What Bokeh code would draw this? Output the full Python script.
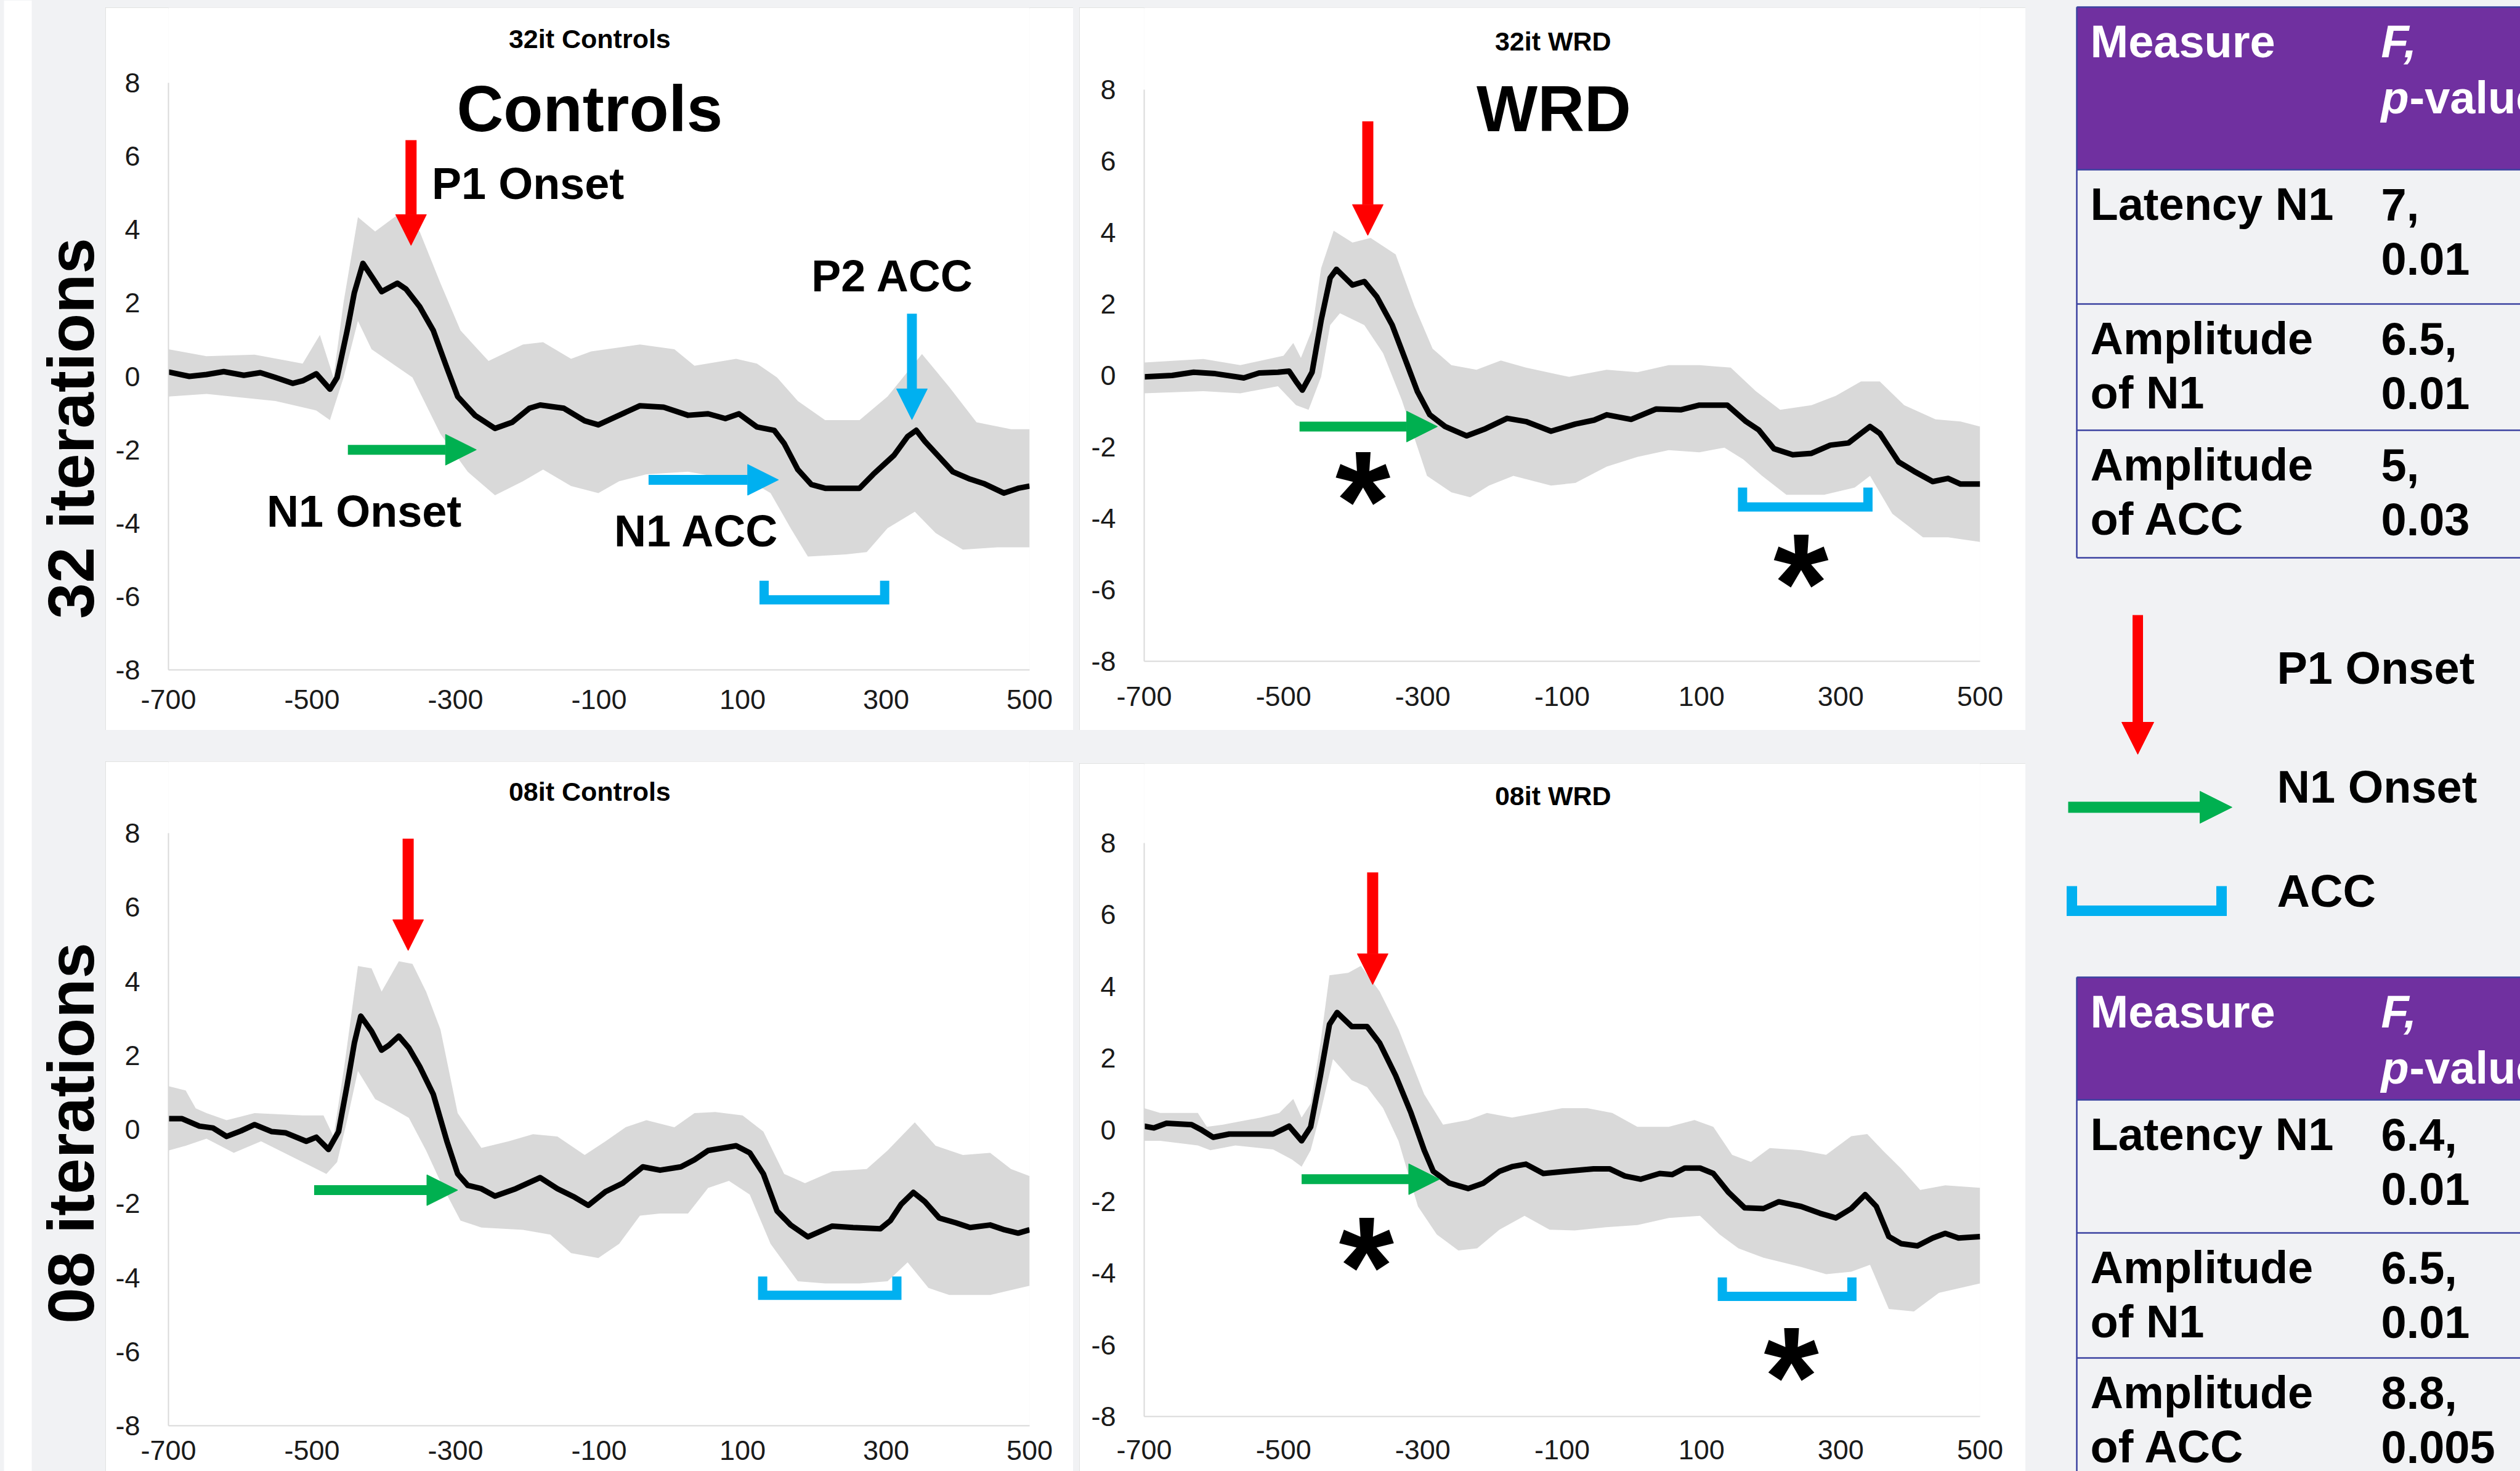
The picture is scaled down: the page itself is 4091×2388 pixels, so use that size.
import math
from bokeh.plotting import figure
from bokeh.models import Range1d, FixedTicker, Arrow, NormalHead, Label, Spacer
from bokeh.layouts import row, column
from bokeh.embed import file_html
from bokeh.resources import INLINE
from bokeh.core.properties import value

# ---------------------------------------------------------------- data
X_TICKS = [-700, -500, -300, -100, 100, 300, 500]
Y_TICKS = [-8, -6, -4, -2, 0, 2, 4, 6, 8]

# 32it Controls
tl_t = [-700, -671, -647, -623, -595, -572, -551, -527, -513, -494, -475, -465, -451, -441, -429, -417, -403,
        -381, -369, -350, -331, -312, -297, -273, -245, -221, -197, -182, -149, -120, -101, -72, -43, -10, 24,
        52, 76, 95, 120, 144, 158, 177, 196, 215, 263, 282, 311, 330, 342, 354, 369, 393, 417, 436, 464, 484, 500]
tl_mean = [0.12, 0.0, 0.05, 0.13, 0.03, 0.1, -0.03, -0.19, -0.12, 0.07, -0.35, -0.03, 1.25, 2.28, 3.08, 2.73,
           2.31, 2.54, 2.38, 1.9, 1.25, 0.23, -0.55, -1.06, -1.42, -1.25, -0.87, -0.78, -0.87, -1.21, -1.32,
           -1.06, -0.80, -0.84, -1.06, -1.02, -1.15, -1.02, -1.38, -1.47, -1.83, -2.54, -2.95, -3.05, -3.05,
           -2.67, -2.15, -1.64, -1.47, -1.77, -2.09, -2.60, -2.80, -2.92, -3.18, -3.05, -2.99]
tl_up_t = [-700, -647, -580, -513, -489, -470, -456, -436, -412, -381, -350, -321, -293, -254, -206, -178, -139,
           -111, -43, 5, 33, 91, 120, 148, 177, 215, 263, 302, 350, 388, 426, 474, 500]
tl_up = [0.74, 0.55, 0.59, 0.35, 1.13, -0.03, 2.02, 4.34, 3.95, 4.40, 3.95, 2.54, 1.25, 0.42, 0.87, 0.93, 0.48,
         0.68, 0.87, 0.74, 0.29, 0.48, 0.35, -0.03, -0.67, -1.19, -1.19, -0.55, 0.61, -0.29, -1.25, -1.44, -1.44]
tl_lo_t = [-700, -647, -551, -494, -475, -456, -436, -417, -360, -321, -283, -245, -206, -178, -139, -101, -72,
           -34, 24, 62, 100, 139, 167, 191, 244, 273, 302, 340, 369, 407, 455, 500]
tl_lo = [-0.55, -0.48, -0.67, -0.93, -1.19, -0.03, 1.51, 0.74, -0.03, -1.57, -2.60, -3.24, -2.86, -2.54, -2.99,
         -3.18, -2.86, -2.67, -2.60, -2.73, -2.73, -3.18, -4.14, -4.91, -4.85, -4.79, -4.14, -3.69, -4.27,
         -4.72, -4.66, -4.66]

# 32it WRD
tr_t = [-700, -660, -629, -598, -557, -535, -508, -492, -482, -473, -459, -446, -433, -424, -401, -384, -366,
        -344, -326, -308, -290, -268, -237, -210, -179, -152, -116, -81, -54, -36, -1, 35, 71, 97, 137, 164,
        182, 204, 231, 258, 285, 311, 329, 342, 356, 383, 405, 432, 454, 472, 500]
tr_mean = [-0.04, 0, 0.09, 0.05, -0.07, 0.07, 0.09, 0.12, -0.17, -0.41, 0.09, 1.54, 2.73, 2.97, 2.53, 2.63,
           2.2, 1.41, 0.49, -0.44, -1.1, -1.43, -1.69, -1.49, -1.2, -1.29, -1.56, -1.36, -1.25, -1.1, -1.23,
           -0.94, -0.96, -0.83, -0.83, -1.29, -1.52, -2.05, -2.22, -2.18, -1.95, -1.89, -1.62, -1.43, -1.62,
           -2.42, -2.68, -2.97, -2.88, -3.04, -3.04]
tr_up_t = [-700, -615, -562, -500, -486, -475, -459, -446, -428, -401, -375, -339, -312, -286, -259, -223, -188,
           -152, -90, -36, 8, 53, 97, 142, 178, 213, 258, 293, 329, 356, 391, 436, 472, 500]
tr_up = [0.36, 0.46, 0.29, 0.55, 0.91, 0.49, 1.28, 3.0, 4.05, 3.72, 3.85, 3.39, 1.94, 0.75, 0.29, 0.16, 0.42,
         0.22, -0.04, 0.16, 0.09, 0.29, 0.29, 0.22, -0.44, -0.96, -0.83, -0.57, -0.17, -0.17, -0.83, -1.23,
         -1.29, -1.43]
tr_lo_t = [-700, -615, -562, -508, -482, -464, -446, -433, -419, -384, -357, -330, -294, -259, -232, -205, -170,
           -116, -81, -36, 8, 53, 97, 133, 160, 187, 222, 276, 320, 342, 374, 418, 454, 500]
tr_lo = [-0.5, -0.44, -0.5, -0.3, -0.83, -0.96, -0.04, 1.41, 1.74, 1.41, 0.62, -0.7, -2.81, -3.27, -3.41,
         -3.08, -2.81, -3.08, -3.01, -2.55, -2.28, -2.09, -2.15, -2.02, -2.35, -2.81, -3.34, -3.34, -3.14,
         -2.81, -3.87, -4.53, -4.53, -4.66]

# 08it Controls
bl_t = [-700, -681, -657, -638, -619, -599, -580, -556, -537, -508, -494, -477, -463, -451, -441, -432, -417,
        -403, -393, -379, -365, -350, -331, -312, -297, -283, -264, -245, -216, -182, -158, -134, -115, -91,
        -67, -39, -15, 14, 33, 52, 91, 110, 129, 148, 167, 191, 225, 254, 292, 306, 321, 338, 354, 374, 397,
        417, 445, 465, 484, 500]
bl_mean = [0.29, 0.29, 0.09, 0.04, -0.19, -0.04, 0.13, -0.06, -0.09, -0.32, -0.21, -0.54, -0.06, 1.2, 2.33,
           3.06, 2.65, 2.14, 2.27, 2.52, 2.2, 1.7, 0.95, -0.32, -1.2, -1.51, -1.6, -1.8, -1.6, -1.3, -1.6,
           -1.83, -2.05, -1.68, -1.45, -1.01, -1.1, -1.01, -0.82, -0.57, -0.44, -0.63, -1.2, -2.2, -2.58, -2.9,
           -2.61, -2.65, -2.68, -2.46, -2.02, -1.7, -1.95, -2.39, -2.52, -2.65, -2.58, -2.71, -2.8, -2.71]
bl_up_t = [-700, -676, -662, -647, -619, -580, -513, -484, -470, -455, -436, -417, -403, -379, -360, -341, -321,
           -297, -264, -226, -192, -158, -120, -91, -63, -34, 5, 33, 62, 100, 129, 158, 187, 225, 273, 302,
           340, 369, 407, 445, 474, 500]
bl_up = [1.17, 1.05, 0.57, 0.44, 0.25, 0.44, 0.38, 0.38, -0.19, 1.7, 4.41, 4.35, 3.72, 4.54, 4.47, 3.72, 2.7,
         0.44, -0.5, -0.32, -0.13, -0.19, -0.69, -0.32, 0.06, 0.25, 0.06, 0.44, 0.47, 0.38, -0.06, -1.2,
         -1.45, -1.13, -1.07, -0.57, 0.19, -0.44, -0.69, -0.63, -1.07, -1.26]
bl_lo_t = [-700, -676, -647, -609, -571, -513, -480, -465, -451, -436, -412, -388, -365, -341, -317, -293, -264,
           -206, -168, -139, -101, -72, -43, -15, 24, 52, 81, 110, 139, 177, 215, 263, 302, 330, 359, 388, 445,
           500]
bl_lo = [-0.57, -0.44, -0.25, -0.63, -0.32, -0.88, -1.2, -0.88, 0.25, 1.58, 0.82, 0.57, 0.31, -0.57, -1.58,
         -2.46, -2.65, -2.71, -2.84, -3.34, -3.47, -3.09, -2.33, -2.27, -2.27, -1.58, -1.39, -1.76, -3.09,
         -4.1, -4.16, -4.16, -4.1, -3.59, -4.28, -4.47, -4.47, -4.22]

# 08it WRD
br_t = [-700, -686, -668, -632, -619, -601, -578, -551, -515, -492, -474, -461, -447, -434, -423, -402, -380,
        -362, -339, -317, -298, -285, -262, -235, -213, -190, -172, -152, -127, -95, -55, -32, -10, 13, 40,
        58, 76, 98, 117, 139, 162, 189, 211, 243, 270, 293, 315, 335, 351, 369, 387, 410, 432, 450, 469, 500]
br_mean = [0.1, 0.05, 0.18, 0.14, 0.01, -0.21, -0.12, -0.12, -0.12, 0.1, -0.31, 0.08, 1.51, 2.94, 3.27, 2.88,
           2.88, 2.42, 1.51, 0.47, -0.57, -1.16, -1.49, -1.64, -1.49, -1.16, -1.03, -0.96, -1.22, -1.16, -1.09,
           -1.09, -1.29, -1.38, -1.22, -1.25, -1.07, -1.07, -1.22, -1.75, -2.18, -2.2, -2.01, -2.14, -2.33,
           -2.46, -2.2, -1.81, -2.14, -2.98, -3.18, -3.24, -3.02, -2.89, -3.02, -2.98]
br_up_t = [-700, -677, -623, -610, -587, -533, -506, -486, -474, -461, -447, -434, -407, -389, -362, -335, -298,
           -271, -235, -208, -172, -136, -100, -64, -28, 8, 53, 90, 117, 144, 171, 198, 243, 279, 315, 338,
           360, 387, 414, 450, 500]
br_up = [0.6, 0.47, 0.47, 0.08, 0.14, 0.34, 0.47, 0.86, 0.34, 0.73, 2.42, 4.31, 4.38, 4.57, 3.86, 2.81, 0.99,
         0.14, 0.27, 0.47, 0.34, 0.47, 0.6, 0.6, 0.47, 0.08, 0.08, 0.27, 0.08, -0.7, -0.9, -0.51, -0.57, -0.7,
         -0.18, -0.12, -0.57, -1.09, -1.68, -1.55, -1.62]
br_lo_t = [-700, -677, -623, -605, -569, -515, -488, -474, -461, -447, -429, -402, -380, -357, -335, -307, -280,
           -249, -222, -190, -154, -118, -82, -37, 8, 53, 98, 126, 153, 189, 243, 279, 315, 342, 369, 405, 441,
           500]
br_lo = [-0.31, -0.31, -0.44, -0.57, -0.44, -0.55, -0.83, -1.03, -0.57, 0.47, 1.97, 1.38, 1.19, 0.6, -0.31,
         -2.14, -2.92, -3.37, -3.31, -2.79, -2.4, -2.79, -2.81, -2.72, -2.66, -2.46, -2.4, -2.92, -3.31, -3.57,
         -3.83, -4.03, -3.96, -3.77, -5.0, -5.07, -4.55, -4.29]

# statistics tables
table_measures = [["Latency N1"], ["Amplitude", "of N1"], ["Amplitude", "of ACC"]]
table1_values = [["7,", "0.01"], ["6.5,", "0.01"], ["5,", "0.03"]]
table2_values = [["6.4,", "0.01"], ["6.5,", "0.01"], ["8.8,", "0.005"]]
legend_labels = ["P1 Onset", "N1 Onset", "ACC"]
row_labels = ["32 iterations", "08 iterations"]

# ---------------------------------------------------------------- style
BG = "#f1f2f4"
BAND = "#d9d9d9"
RED, GREEN, BLUE, PURPLE = "#ff0000", "#00b050", "#00b0f0", "#7030a0"
TBL_LINE = "#3b42a0"
FONT = "Liberation Sans"

W_TOT, H_TOT = 4091, 2388


def Y(ref_y):
    """page pixel row -> data y of the full-height side figures"""
    return H_TOT - ref_y


def arrow(p, x0, y0, x1, y1, color, lw, head):
    p.add_layout(Arrow(x_start=x0, y_start=y0, x_end=x1, y_end=y1, line_color=color, line_width=lw,
                       end=NormalHead(size=head, fill_color=color, line_color=color, line_width=1)))


def bracket(p, x0, x1, top, bot, dx, dy, lw=15):
    p.line([x0 + dx, x0 + dx, x1 - dx, x1 - dx], [top, bot + dy, bot + dy, top],
           line_color=BLUE, line_width=lw, line_join="miter", line_cap="butt")


def texts(p, xs, ys, labels, size, align="left", color="black", style="bold"):
    p.text(xs, ys, text=labels, text_font=value(FONT), text_font_style=style, text_font_size=size,
           text_align=align, text_baseline="middle", text_color=color)


def panel(title, title_y, fig_top, w, h, bl, br, y8, ym8, std, t, mean, up_t, up, lo_t, lo):
    bt = y8 - fig_top
    bb = fig_top + h - ym8
    ppu = (ym8 - y8) / 16.0
    p = figure(width=w, height=h, x_range=Range1d(-700, 500), y_range=Range1d(-8, 8 + bt / ppu),
               output_backend="svg", toolbar_location=None, tools="",
               min_border_left=bl, min_border_right=br, min_border_top=0, min_border_bottom=bb,
               background_fill_color="white", border_fill_color="white", outline_line_color=None,
               styles={"outline": "3px solid #d9d9d9", "outline-offset": "-3px"})
    p.grid.visible = False
    p.xaxis.ticker = FixedTicker(ticks=X_TICKS)
    p.yaxis.ticker = FixedTicker(ticks=Y_TICKS)
    p.xaxis.major_label_overrides = {v: str(v) for v in X_TICKS}
    p.yaxis.major_label_overrides = {v: str(v) for v in Y_TICKS}
    p.yaxis.bounds = (-8, 8)
    for ax in (p.xaxis[0], p.yaxis[0]):
        ax.axis_line_color = BAND
        ax.axis_line_width = 2
        ax.major_tick_line_color = None
        ax.minor_tick_line_color = None
        ax.major_label_text_font = FONT
        ax.major_label_text_font_size = "45px"
        ax.major_label_text_color = "#1a1a1a"
    p.xaxis.major_label_standoff = std
    p.yaxis.major_label_standoff = 40
    p.patch(up_t + lo_t[::-1], up + lo[::-1], fill_color=BAND, line_color=None)
    p.line(t, mean, line_color="black", line_width=9, line_join="round")
    texts(p, [-113], [8 - (title_y - y8) / ppu], [title], "43px", align="center")
    return p


# ---------------------------------------------------------------- panels
tl = panel("32it Controls", 62, 12, 1571, 1173, 102, 71, 134, 1087, 26,
           tl_t, tl_mean, tl_up_t, tl_up, tl_lo_t, tl_lo)
arrow(tl, -362, 6.44, -362, 3.57, RED, 18, 50)
arrow(tl, -450, -2.0, -271, -2.0, GREEN, 16, 50)
arrow(tl, -31, -2.82, 150, -2.82, BLUE, 16, 50)
arrow(tl, 336, 1.71, 336, -1.18, BLUE, 16, 50)
bracket(tl, 124, 304, -5.57, -6.21, 6, 0.12)
texts(tl, [-113], [7.29], ["Controls"], "105px", align="center")
texts(tl, [-333, 196, -563, -79], [5.25, 2.74, -3.67, -4.21], ["P1 Onset", "P2 ACC", "N1 Onset", "N1 ACC"], "72px")

tr = panel("32it WRD", 66, 12, 1536, 1173, 95, 66, 145, 1073, 35,
           tr_t, tr_mean, tr_up_t, tr_up, tr_lo_t, tr_lo)
arrow(tr, -379, 7.11, -379, 3.92, RED, 18, 50)
arrow(tr, -477, -1.43, -279, -1.43, GREEN, 16, 50)
bracket(tr, 153, 345, -3.14, -3.8, 6, 0.12)
texts(tr, [-112], [7.47], ["WRD"], "105px", align="center")
texts(tr, [-386, 243], [-3.52, -5.83], ["*", "*"], "230px", align="center")

bl = panel("08it Controls", 1284, 1236, 1571, 1152, 102, 71, 1352, 2314, 18,
           bl_t, bl_mean, bl_up_t, bl_up, bl_lo_t, bl_lo)
arrow(bl, -366, 7.85, -366, 4.83, RED, 18, 50)
arrow(bl, -497, -1.64, -297, -1.64, GREEN, 16, 50)
bracket(bl, 122, 321, -3.97, -4.6, 6, 0.12)

br = panel("08it WRD", 1291, 1239, 1536, 1149, 105, 74, 1368, 2299, 32,
           br_t, br_mean, br_up_t, br_up, br_lo_t, br_lo)
arrow(br, -372, 7.18, -372, 4.05, RED, 18, 50)
arrow(br, -474, -1.38, -276, -1.38, GREEN, 16, 50)
bracket(br, 124, 322, -4.12, -4.77, 6, 0.12)
texts(br, [-381, 229], [-3.82, -6.9], ["*", "*"], "230px", align="center")


# ---------------------------------------------------------------- side figures
def side(w, x0):
    p = figure(width=w, height=H_TOT, x_range=Range1d(x0, x0 + w), y_range=Range1d(0, H_TOT),
               output_backend="svg", toolbar_location=None, tools="", x_axis_type=None, y_axis_type=None,
               min_border=0, background_fill_color=BG, border_fill_color=BG, outline_line_color=None)
    return p


left = side(171, 0)
left.quad(left=[6], right=[51], bottom=[0], top=[H_TOT], fill_color="white", line_color=None)
for lab, cy in zip(row_labels, [695, 1839]):
    left.add_layout(Label(x=115, y=Y(cy), text=lab, angle=math.pi / 2, text_align="center",
                          text_baseline="middle", text_font=FONT, text_font_style="bold",
                          text_font_size="105px", text_color="black"))

right = side(W_TOT - 3288, 3288)
TX0, TX1, C1, C2 = 3371, 4400, 3393, 3865


def table(p, bounds, values):
    p.quad(left=[TX0], right=[TX1], top=[Y(bounds[0])], bottom=[Y(bounds[1])], fill_color=PURPLE, line_color=None)
    p.segment(x0=[TX0] * len(bounds), x1=[TX1] * len(bounds), y0=[Y(b) for b in bounds],
              y1=[Y(b) for b in bounds], line_color=TBL_LINE, line_width=2.5)
    p.segment(x0=[TX0], x1=[TX0], y0=[Y(bounds[0])], y1=[Y(bounds[-1])], line_color=TBL_LINE, line_width=2.5)
    top = bounds[0]
    texts(p, [C1], [Y(top + 56)], ["Measure"], "74px", color="white")
    texts(p, [C2], [Y(top + 56)], ["F,"], "74px", color="white", style="bold italic")
    texts(p, [C2], [Y(top + 147)], ["p"], "74px", color="white", style="bold italic")
    texts(p, [C2 + 46], [Y(top + 147)], ["-value"], "74px", color="white")
    xs, ys, labs = [], [], []
    for i in range(3):
        r0 = bounds[i + 1]
        for j, s in enumerate(table_measures[i]):
            xs.append(C1); ys.append(Y(r0 + 56 + 88 * j)); labs.append(s)
        for j, s in enumerate(values[i]):
            xs.append(C2); ys.append(Y(r0 + 56 + 88 * j)); labs.append(s)
    texts(p, xs, ys, labs, "74px")


table(right, [11, 275, 493, 698, 905], table1_values)
table(right, [1586, 1785, 2001, 2204, 2600], table2_values)

# legend
arrow(right, 3470, Y(998), 3470, Y(1224), RED, 17, 52)
arrow(right, 3357, Y(1310), 3623, Y(1310), GREEN, 18, 52)
right.line([3363, 3363, 3606, 3606], [Y(1438), Y(1478), Y(1478), Y(1438)], line_color=BLUE, line_width=17,
           line_join="miter")
texts(right, [3696, 3696, 3696], [Y(1084), Y(1277), Y(1446)], legend_labels, "74px")


# ---------------------------------------------------------------- layout
def gap(w, h):
    return Spacer(width=w, height=h, styles={"background-color": BG})


col1 = column(gap(1571, 12), tl, gap(1571, 51), bl)
col2 = column(gap(1536, 12), tr, gap(1536, 54), br)
root = row(left, col1, gap(10, H_TOT), col2, right, styles={"background-color": BG})

open("out.html", "w").write(file_html(root, INLINE))
